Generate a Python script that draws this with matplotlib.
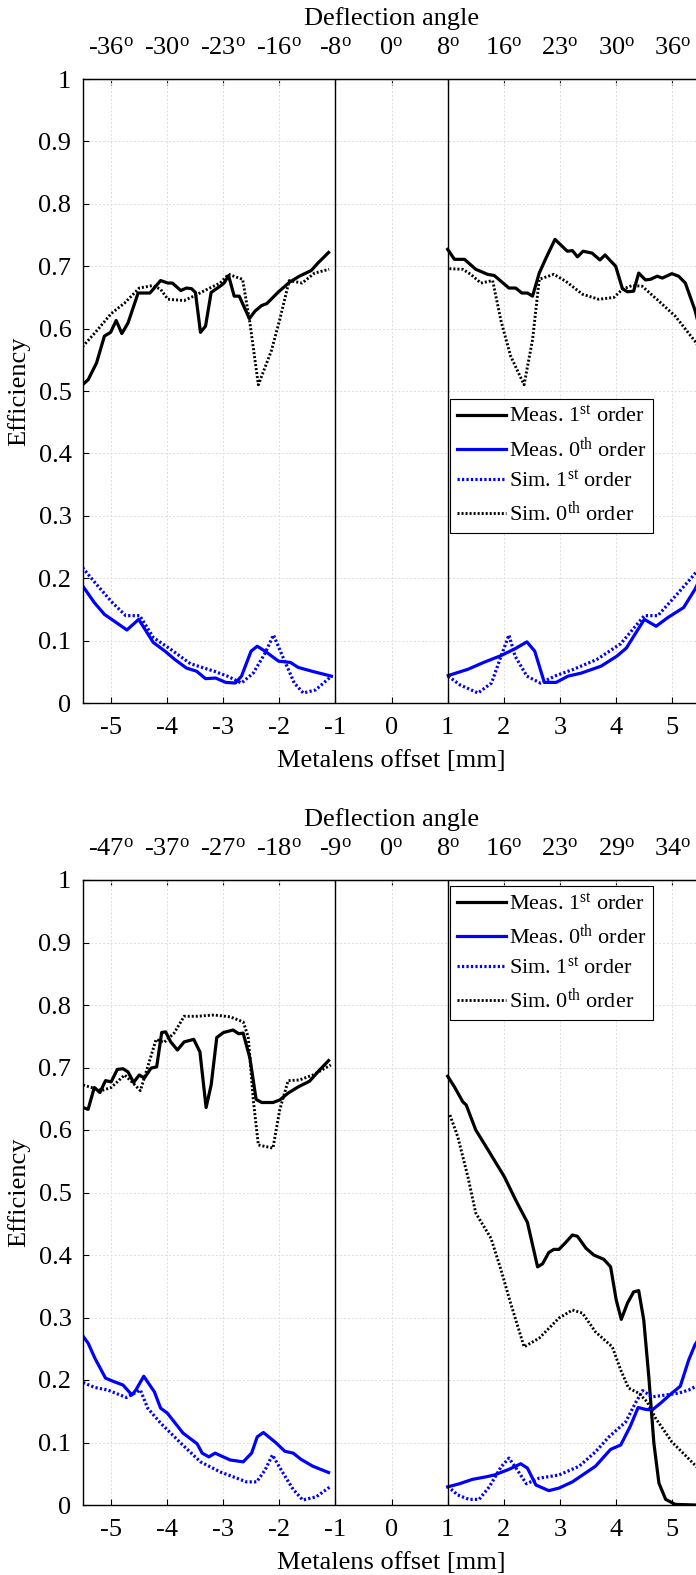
import matplotlib
matplotlib.use('Agg')
import matplotlib.pyplot as plt

plt.rcParams['font.family'] = 'Liberation Serif'
plt.rcParams['mathtext.fontset'] = 'custom'
plt.rcParams['mathtext.rm'] = 'Liberation Serif'
plt.rcParams['mathtext.it'] = 'Liberation Serif:italic'

offset_ticks = [-5, -4, -3, -2, -1, 0, 1, 2, 3, 4, 5]
angles_top = ['-36', '-30', '-23', '-16', '-8', '0', '8', '16', '23', '30', '36']
angles_bot = ['-47', '-37', '-27', '-18', '-9', '0', '8', '16', '23', '29', '34']
y_ticks = [0, 0.1, 0.2, 0.3, 0.4, 0.5, 0.6, 0.7, 0.8, 0.9, 1]
y_labels = ['0', '0.1', '0.2', '0.3', '0.4', '0.5', '0.6', '0.7', '0.8', '0.9', '1']
legend_labels = ['Meas. 1$^{\\mathrm{st}}$ order', 'Meas. 0$^{\\mathrm{th}}$ order',
                 'Sim. 1$^{\\mathrm{st}}$ order', 'Sim. 0$^{\\mathrm{th}}$ order']

# ---- top panel, left half (x < -1)
t_m1_lx = [-5.5, -5.4, -5.25, -5.11, -5.0, -4.9, -4.8, -4.69, -4.51, -4.3, -4.11, -3.98, -3.9, -3.75,
           -3.65, -3.56, -3.49, -3.4, -3.31, -3.21, -3.05, -2.98, -2.9, -2.8, -2.71, -2.53, -2.43,
           -2.31, -2.22, -2.01, -1.82, -1.64, -1.43, -1.31, -1.12]
t_m1_ly = [0.510, 0.518, 0.545, 0.588, 0.594, 0.613, 0.592, 0.609, 0.657, 0.657, 0.677, 0.673, 0.673,
           0.661, 0.665, 0.664, 0.658, 0.594, 0.604, 0.658, 0.668, 0.673, 0.685, 0.652, 0.652, 0.616,
           0.628, 0.637, 0.640, 0.659, 0.674, 0.684, 0.693, 0.705, 0.722]
t_s0_lx = [-5.5, -5.28, -4.99, -4.75, -4.49, -4.25, -4.11, -3.98, -3.69, -3.52, -3.28, -3.05, -2.9,
           -2.65, -2.52, -2.37, -2.14, -1.99, -1.82, -1.59, -1.37, -1.11]
t_s0_ly = [0.571, 0.593, 0.624, 0.641, 0.665, 0.669, 0.663, 0.647, 0.645, 0.652, 0.663, 0.673, 0.687,
           0.679, 0.609, 0.510, 0.564, 0.614, 0.677, 0.673, 0.689, 0.695]
t_m0_lx = [-5.5, -5.29, -5.11, -4.9, -4.71, -4.5, -4.24, -4.03, -3.86, -3.65, -3.47, -3.31, -3.13,
           -2.95, -2.78, -2.67, -2.5, -2.39, -2.25, -2.01, -1.8, -1.66, -1.42, -1.07]
t_m0_ly = [0.188, 0.161, 0.142, 0.129, 0.117, 0.134, 0.097, 0.083, 0.070, 0.056, 0.051, 0.039, 0.040,
           0.033, 0.032, 0.043, 0.083, 0.091, 0.083, 0.067, 0.065, 0.057, 0.051, 0.043]
t_s1_lx = [-5.5, -5.25, -4.97, -4.73, -4.48, -4.24, -3.93, -3.58, -3.16, -2.92, -2.67, -2.46, -2.25,
           -2.1, -1.94, -1.73, -1.57, -1.35, -1.07]
t_s1_ly = [0.217, 0.190, 0.161, 0.140, 0.140, 0.105, 0.086, 0.063, 0.051, 0.043, 0.032, 0.048, 0.080,
           0.109, 0.075, 0.032, 0.016, 0.021, 0.043]

# ---- top panel, right half (x > 1)
t_m1_rx = [1.0, 1.12, 1.3, 1.5, 1.71, 1.83, 2.09, 2.21, 2.32, 2.42, 2.51, 2.63, 2.75, 2.91, 3.13, 3.22,
           3.31, 3.41, 3.57, 3.71, 3.8, 3.99, 4.11, 4.2, 4.31, 4.4, 4.52, 4.61, 4.73, 4.82, 4.99, 5.11,
           5.23, 5.4, 5.5]
t_m1_ry = [0.727, 0.711, 0.711, 0.695, 0.687, 0.685, 0.665, 0.665, 0.657, 0.657, 0.652, 0.689, 0.713,
           0.743, 0.724, 0.725, 0.715, 0.724, 0.721, 0.710, 0.718, 0.700, 0.664, 0.659, 0.660, 0.689,
           0.678, 0.679, 0.684, 0.681, 0.688, 0.684, 0.673, 0.630, 0.595]
t_s0_rx = [1.03, 1.27, 1.41, 1.59, 1.8, 1.95, 2.12, 2.36, 2.51, 2.63, 2.89, 3.1, 3.4, 3.69, 3.96, 4.11,
           4.28, 4.46, 4.76, 5.05, 5.4, 5.5]
t_s0_ry = [0.696, 0.695, 0.687, 0.673, 0.677, 0.612, 0.556, 0.510, 0.582, 0.679, 0.687, 0.676, 0.655,
           0.647, 0.650, 0.663, 0.669, 0.668, 0.644, 0.620, 0.580, 0.565]
t_m0_rx = [1.01, 1.36, 1.64, 1.95, 2.2, 2.41, 2.55, 2.72, 2.93, 3.14, 3.38, 3.73, 4.01, 4.18, 4.5, 4.71,
           4.92, 5.2, 5.4, 5.5]
t_m0_ry = [0.044, 0.054, 0.065, 0.076, 0.087, 0.098, 0.083, 0.033, 0.033, 0.043, 0.048, 0.059, 0.075,
           0.088, 0.134, 0.123, 0.137, 0.153, 0.182, 0.200]
t_s1_rx = [1.01, 1.22, 1.54, 1.78, 1.95, 2.09, 2.2, 2.41, 2.65, 2.93, 3.24, 3.66, 4.08, 4.5, 4.74, 5.06,
           5.39, 5.5]
t_s1_ry = [0.043, 0.029, 0.016, 0.032, 0.075, 0.109, 0.075, 0.043, 0.032, 0.044, 0.054, 0.070, 0.095,
           0.140, 0.140, 0.172, 0.206, 0.220]

# ---- bottom panel, left half
b_m1_lx = [-5.49, -5.4, -5.29, -5.19, -5.09, -4.99, -4.88, -4.78, -4.69, -4.59, -4.49, -4.4, -4.28,
           -4.18, -4.09, -4.02, -3.93, -3.81, -3.69, -3.52, -3.41, -3.3, -3.21, -3.11, -2.99, -2.82,
           -2.72, -2.64, -2.52, -2.41, -2.31, -2.11, -1.99, -1.84, -1.66, -1.46, -1.28, -1.12]
b_m1_ly = [0.636, 0.633, 0.668, 0.660, 0.679, 0.677, 0.697, 0.698, 0.693, 0.676, 0.688, 0.683, 0.699,
           0.701, 0.756, 0.757, 0.741, 0.728, 0.741, 0.745, 0.725, 0.636, 0.672, 0.748, 0.756, 0.760,
           0.754, 0.755, 0.715, 0.649, 0.644, 0.644, 0.648, 0.659, 0.669, 0.678, 0.696, 0.711]
b_s0_lx = [-5.49, -5.34, -5.16, -4.99, -4.75, -4.61, -4.47, -4.34, -4.19, -4.05, -3.87, -3.69, -3.46,
           -3.16, -2.87, -2.64, -2.55, -2.46, -2.37, -2.11, -1.99, -1.84, -1.64, -1.4, -1.08]
b_s0_ly = [0.672, 0.668, 0.663, 0.668, 0.688, 0.676, 0.663, 0.701, 0.745, 0.740, 0.755, 0.782, 0.782,
           0.784, 0.781, 0.773, 0.749, 0.648, 0.576, 0.571, 0.632, 0.679, 0.680, 0.688, 0.704]
b_m0_lx = [-5.49, -5.4, -5.28, -5.09, -4.93, -4.78, -4.62, -4.55, -4.41, -4.22, -4.11, -3.99, -3.71,
           -3.46, -3.37, -3.25, -3.14, -3.02, -2.87, -2.64, -2.49, -2.39, -2.28, -2.05, -1.9, -1.75,
           -1.61, -1.4, -1.12]
b_m0_ly = [0.270, 0.259, 0.235, 0.203, 0.197, 0.192, 0.176, 0.184, 0.206, 0.181, 0.155, 0.147, 0.115,
           0.098, 0.083, 0.077, 0.083, 0.078, 0.072, 0.069, 0.083, 0.109, 0.116, 0.099, 0.086, 0.083,
           0.073, 0.062, 0.052]
b_s1_lx = [-5.49, -5.28, -5.05, -4.72, -4.47, -4.34, -4.11, -3.75, -3.4, -3.05, -2.58, -2.4, -2.25,
           -2.12, -1.93, -1.75, -1.58, -1.34, -1.08]
b_s1_ly = [0.196, 0.188, 0.184, 0.172, 0.184, 0.155, 0.131, 0.099, 0.069, 0.053, 0.037, 0.037, 0.056,
           0.080, 0.051, 0.025, 0.008, 0.013, 0.030]

# ---- bottom panel, right half
b_m1_rx = [1.0, 1.12, 1.27, 1.33, 1.5, 1.74, 2.01, 2.21, 2.42, 2.6, 2.69, 2.8, 2.89, 2.98, 3.09, 3.22,
           3.31, 3.46, 3.6, 3.78, 3.9, 4.0, 4.09, 4.2, 4.31, 4.4, 4.49, 4.58, 4.67, 4.76, 4.88, 5.05,
           5.4, 5.5]
b_m1_ry = [0.686, 0.669, 0.645, 0.640, 0.600, 0.565, 0.525, 0.488, 0.452, 0.381, 0.386, 0.404, 0.409,
           0.409, 0.419, 0.432, 0.430, 0.411, 0.400, 0.393, 0.381, 0.328, 0.297, 0.323, 0.341, 0.343,
           0.296, 0.205, 0.099, 0.035, 0.009, 0.001, 0.0, 0.0]
b_s0_rx = [1.04, 1.18, 1.36, 1.5, 1.77, 1.95, 2.12, 2.36, 2.63, 2.98, 3.22, 3.4, 3.63, 3.93, 4.08, 4.22,
           4.4, 4.55, 4.7, 4.99, 5.4, 5.5]
b_s0_ry = [0.624, 0.589, 0.525, 0.467, 0.427, 0.376, 0.323, 0.253, 0.267, 0.299, 0.312, 0.307, 0.277,
           0.253, 0.216, 0.187, 0.179, 0.165, 0.139, 0.101, 0.064, 0.055]
b_m0_rx = [1.0, 1.21, 1.44, 1.68, 1.83, 2.09, 2.3, 2.42, 2.57, 2.8, 2.98, 3.22, 3.4, 3.63, 3.9, 4.08,
           4.25, 4.39, 4.52, 4.64, 4.79, 4.99, 5.14, 5.29, 5.4, 5.5]
b_m0_ry = [0.029, 0.034, 0.041, 0.045, 0.048, 0.057, 0.066, 0.059, 0.032, 0.023, 0.027, 0.037, 0.048,
           0.062, 0.089, 0.096, 0.126, 0.156, 0.153, 0.152, 0.163, 0.179, 0.190, 0.232, 0.256, 0.270]
b_s1_rx = [1.0, 1.18, 1.38, 1.56, 1.74, 1.95, 2.09, 2.24, 2.4, 2.63, 2.98, 3.34, 3.63, 3.87, 4.17, 4.34,
           4.47, 4.64, 4.88, 5.11, 5.29, 5.4, 5.5]
b_s1_ry = [0.030, 0.016, 0.009, 0.009, 0.029, 0.061, 0.075, 0.056, 0.034, 0.043, 0.048, 0.062, 0.085,
           0.109, 0.133, 0.163, 0.183, 0.173, 0.176, 0.179, 0.184, 0.189, 0.190]

FS = 19
LW = 2.3
DOT = (0, (0.7, 0.7))


def draw_panel(ax, curves, angles, legend_y):
    m1, m0, s1, s0 = curves
    h1, = ax.plot(m1[0], m1[1], color='k', lw=LW, label=legend_labels[0])
    h2, = ax.plot(m0[0], m0[1], color=(0, 0, 1), lw=LW, label=legend_labels[1])
    h3, = ax.plot(s1[0], s1[1], color=(0, 0, 1), lw=LW, ls=DOT, label=legend_labels[2])
    h4, = ax.plot(s0[0], s0[1], color='k', lw=LW * 0.9, ls=DOT, label=legend_labels[3])
    # second halves (no legend entry)
    ax.plot(m1[2], m1[3], color='k', lw=LW)
    ax.plot(m0[2], m0[3], color=(0, 0, 1), lw=LW)
    ax.plot(s1[2], s1[3], color=(0, 0, 1), lw=LW, ls=DOT)
    ax.plot(s0[2], s0[3], color='k', lw=LW * 0.9, ls=DOT)

    ax.axvline(-1, color='k', lw=1.0)
    ax.axvline(1, color='k', lw=1.0)

    ax.set_xlim(-5.5, 5.5)
    ax.set_ylim(0, 1)
    ax.set_xticks(offset_ticks, [str(t) for t in offset_ticks])
    ax.set_yticks(y_ticks, y_labels)
    ax.tick_params(direction='in', length=4, labelsize=FS, top=False, right=False)
    ax.tick_params(axis='x', pad=10)
    ax.tick_params(axis='y', pad=8)
    ax.grid(True, color='#dcdcdc', ls=(0, (2, 2)), lw=0.7)
    ax.set_axisbelow(True)
    for s in ax.spines.values():
        s.set_linewidth(1.0)
    ax.set_xlabel('Metalens offset [mm]', fontsize=FS, labelpad=8)
    ax.set_ylabel('Efficiency', fontsize=FS, labelpad=6)

    sec = ax.secondary_xaxis('top')
    sec.set_xticks(offset_ticks, [a + '$^{\\mathrm{o}}$' for a in angles])
    sec.tick_params(direction='in', length=4, labelsize=FS, pad=14)
    sec.set_xlabel('Deflection angle', fontsize=FS, labelpad=9)

    leg = ax.legend(handles=[h1, h2, h3, h4], loc='upper left', bbox_to_anchor=(0.595, legend_y),
                    fontsize=FS - 3, frameon=True, fancybox=False, framealpha=1, edgecolor='k',
                    borderaxespad=0, handlelength=2.2, handletextpad=0.15, borderpad=0.3,
                    labelspacing=0.4)
    leg.get_frame().set_linewidth(0.8)


fig = plt.figure(figsize=(6.96, 15.75), dpi=100)
ax1 = fig.add_axes([82.5 / 696, 872 / 1575, 618 / 696, 624 / 1575])
ax2 = fig.add_axes([82.5 / 696, 70 / 1575, 618 / 696, 625 / 1575])

draw_panel(ax1, [(t_m1_lx, t_m1_ly, t_m1_rx, t_m1_ry), (t_m0_lx, t_m0_ly, t_m0_rx, t_m0_ry),
                 (t_s1_lx, t_s1_ly, t_s1_rx, t_s1_ry), (t_s0_lx, t_s0_ly, t_s0_rx, t_s0_ry)],
           angles_top, 0.487)
draw_panel(ax2, [(b_m1_lx, b_m1_ly, b_m1_rx, b_m1_ry), (b_m0_lx, b_m0_ly, b_m0_rx, b_m0_ry),
                 (b_s1_lx, b_s1_ly, b_s1_rx, b_s1_ry), (b_s0_lx, b_s0_ly, b_s0_rx, b_s0_ry)],
           angles_bot, 0.99)

fig.savefig('out.png', dpi=100)
print('done')
